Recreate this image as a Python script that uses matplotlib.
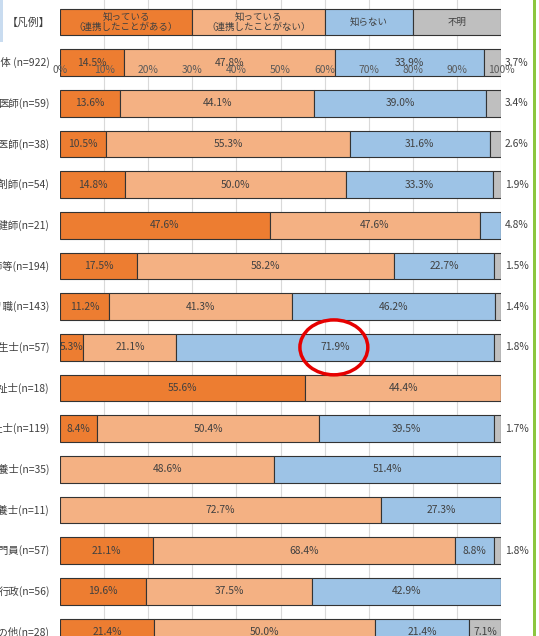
import numpy as np
import matplotlib
matplotlib.use('Agg')
import matplotlib.pyplot as plt
from matplotlib.patches import Ellipse, Rectangle

plt.rcParams['font.family'] = ['Noto Sans CJK JP', 'DejaVu Sans']

# row labels (left part is cut off in the original screenshot)
labels = ['全体 (n=922)', '医師(n=59)', '歯科医師(n=38)', '薬剤師(n=54)', '保健師(n=21)',
          '看護師等(n=194)', 'リハビリ職(n=143)', '歯科衛生士(n=57)', '社会福祉士(n=18)',
          '介護福祉士(n=119)', '管理栄養士(n=35)', '栄養士(n=11)', '介護支援専門員(n=57)',
          '行政(n=56)', 'その他(n=28)']

known_linked = [14.5, 13.6, 10.5, 14.8, 47.6, 17.5, 11.2, 5.3, 55.6, 8.4, 0, 0, 21.1, 19.6, 21.4]
known_not_linked = [47.8, 44.1, 55.3, 50.0, 47.6, 58.2, 41.3, 21.1, 44.4, 50.4, 48.6, 72.7, 68.4, 37.5, 50.0]
unknown = [33.9, 39.0, 31.6, 33.3, 4.8, 22.7, 46.2, 71.9, 0, 39.5, 51.4, 27.3, 8.8, 42.9, 21.4]
no_answer = [3.7, 3.4, 2.6, 1.9, 0, 1.5, 1.4, 1.8, 0, 1.7, 0, 0, 1.8, 0, 7.1]

legend_names = ['知っている\n（連携したことがある）', '知っている\n（連携したことがない）', '知らない', '不明']
legend_widths = [30, 30, 20, 20]
colors = ['#ed7d31', '#f4b183', '#9dc3e6', '#bfbfbf']

W, H = 539, 636
fig = plt.figure(figsize=(W / 100, H / 100), dpi=100)
row_px = 40.67
top_px = 22
ax = fig.add_axes([60 / W, 0, 441 / W, 1])
ax.set_xlim(0, 100)
ax.set_ylim((H - top_px) / row_px, -top_px / row_px)
ax.axis('off')

# vertical gridlines
for g in range(10, 101, 10):
    ax.axvline(g, color='#d9d9d9', lw=0.8, zorder=0)

bh = 0.66
edge = '#333333'
txt = '#404040'

# legend bar (row 0)
left = 0
for w, c, name in zip(legend_widths, colors, legend_names):
    ax.barh(0, w, left=left, height=bh, color=c, edgecolor=edge, lw=0.8, zorder=2)
    ax.text(left + w / 2, 0, name, ha='center', va='center', fontsize=6.8,
            color=txt, linespacing=1.15, zorder=3)
    left += w
ax.text(-2.3, 0, '【凡例】', ha='right', va='center', fontsize=7.8, color=txt)

series = [known_linked, known_not_linked, unknown, no_answer]
n = len(labels)
y = np.arange(1, n + 1)
lefts = np.zeros(n)
for s, c in zip(series, colors):
    vals = np.array(s)
    ax.barh(y, vals, left=lefts, height=bh, color=c, edgecolor=edge, lw=0.8, zorder=2)
    lefts += vals

fs = 7.4
for i in range(n):
    vals = [s[i] for s in series]
    nz = [k for k, v in enumerate(vals) if v > 0]
    last = nz[-1]
    pos = 0
    for k, v in enumerate(vals):
        if v > 0:
            if k == last and v < 5:
                ax.text(100.9, y[i], f'{v:.1f}%', ha='left', va='center', fontsize=fs, color=txt)
            else:
                ax.text(pos + v / 2, y[i], f'{v:.1f}%', ha='center', va='center', fontsize=fs,
                        color=txt, zorder=3)
        pos += v
    ax.text(-2.3, y[i], labels[i], ha='right', va='center', fontsize=7.5, color=txt)

# axis tick labels that show through over the first row
for g in range(0, 101, 10):
    ax.text(g, 1.18, f'{g}%', ha='center', va='center', fontsize=fs, color='#595959', zorder=4)

# red circle
ax.add_patch(Ellipse((62.1, 8), 15.4, 1.35, fill=False, edgecolor='#e60000', lw=2.5, zorder=5))

# screenshot decorations
fig.add_artist(Rectangle((533 / W, 0), 3 / W, 1, transform=fig.transFigure,
                         color='#8cc63f', lw=0))
fig.add_artist(Rectangle((0, 1 - 42 / H), 3 / W, 42 / H, transform=fig.transFigure,
                         color='#c9dcf0', lw=0))

fig.savefig('out.png', dpi=100)
